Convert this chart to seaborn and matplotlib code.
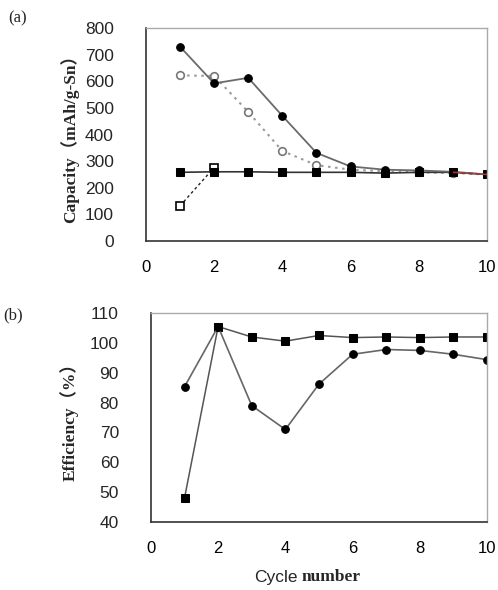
import matplotlib
matplotlib.use("Agg")
import matplotlib.pyplot as plt
import seaborn as sns
import pandas as pd

# cycle numbers
cycles = [1, 2, 3, 4, 5, 6, 7, 8, 9, 10]

# (a) capacity, mAh/g-Sn
cap_filled_circle = [730, 592, 613, 470, 331, 280, 268, 265, 260, 250]
cap_open_circle = [622, 620, 485, 338, 285, 268, 262, 258, 255, 250]
cap_filled_square = [258, 260, 260, 258, 258, 258, 255, 258, 258, 250]
cap_open_square = [132, 276]
cap_red_cycles = [9, 10]
cap_red = [258, 250]

# (b) efficiency, %
eff_square = [48, 105.5, 102, 100.6, 102.5, 101.8, 102, 101.8, 102, 102]
eff_circle = [85.3, 105.5, 79, 71, 86.2, 96.2, 97.8, 97.5, 96.2, 94.4]

sns.set_style("white")
plt.rcParams['font.family'] = ['Liberation Sans', 'DejaVu Sans']

serif = ['Liberation Serif', 'Noto Sans CJK SC', 'DejaVu Serif']

fig = plt.figure(figsize=(4.98, 5.9), dpi=100)
ax1 = fig.add_axes([0.293, 0.5915, 0.685, 0.361])
ax2 = fig.add_axes([0.303, 0.1153, 0.675, 0.354])

# Panel (a)
sns.lineplot(x=cycles, y=cap_open_circle, ax=ax1, color='#9a9a9a', linestyle=(0, (1.2, 2.2)),
             lw=1.5, marker='o', markersize=5.5, markerfacecolor='white',
             markeredgecolor='#777777', markeredgewidth=1.2)
sns.lineplot(x=cycles[:2], y=cap_open_square, ax=ax1, color='#222222', linestyle=(0, (2, 2)),
             lw=1.0, marker='s', markersize=5.5, markerfacecolor='white',
             markeredgecolor='black', markeredgewidth=1.2)
sns.lineplot(x=cycles, y=cap_filled_square, ax=ax1, color='#333333', lw=1.2,
             marker='s', markersize=5.5, markerfacecolor='black', markeredgecolor='black')
sns.lineplot(x=cycles, y=cap_filled_circle, ax=ax1, color='#6a6a6a', lw=1.3,
             marker='o', markersize=5.5, markerfacecolor='black', markeredgecolor='black')
sns.lineplot(x=cap_red_cycles, y=cap_red, ax=ax1, color='#b03030', lw=1.2,
             linestyle=(0, (3, 1.5)))

ax1.set_xlim(0, 10)
ax1.set_ylim(0, 800)
ax1.set_xticks([0, 2, 4, 6, 8, 10])
ax1.set_yticks(range(0, 801, 100))
ax1.set_ylabel('Capacity（mAh/g-Sn）', family=serif, fontweight='bold', fontsize=12.5, labelpad=4)
fig.text(0.016, 0.968, '(a)', family=serif, fontsize=12, va='center', ha='left')

# Panel (b)
sns.lineplot(x=cycles, y=eff_square, ax=ax2, color='#555555', lw=1.1,
             marker='s', markersize=5.5, markerfacecolor='black', markeredgecolor='black')
sns.lineplot(x=cycles, y=eff_circle, ax=ax2, color='#666666', lw=1.2,
             marker='o', markersize=5.5, markerfacecolor='black', markeredgecolor='black')

ax2.set_xlim(0, 10)
ax2.set_ylim(40, 110)
ax2.set_xticks([0, 2, 4, 6, 8, 10])
ax2.set_yticks(range(40, 111, 10))
ax2.set_ylabel('Efficiency（%）', family=serif, fontweight='bold', fontsize=12.5, labelpad=8)
fig.text(0.006, 0.466, '(b)', family=serif, fontsize=12, va='center', ha='left')

# x label: mixed fonts
fig.text(0.597, 0.022, 'Cycle', ha='right', va='center', fontsize=12.5, family=['Liberation Sans'])
fig.text(0.605, 0.022, 'number', ha='left', va='center', fontsize=12.5, family=serif, fontweight='bold')

for ax in (ax1, ax2):
    for side in ('left', 'bottom'):
        ax.spines[side].set_color('#333333')
        ax.spines[side].set_linewidth(1.2)
    for side in ('top', 'right'):
        ax.spines[side].set_color('#aaaaaa')
        ax.spines[side].set_linewidth(1.0)
    ax.tick_params(axis='x', direction='in', length=4, width=1, colors='#333333',
                   labelcolor='black', labelsize=12, pad=14)
    ax.tick_params(axis='y', length=0, labelsize=12.5, pad=23)

fig.savefig('out.png', dpi=100)
